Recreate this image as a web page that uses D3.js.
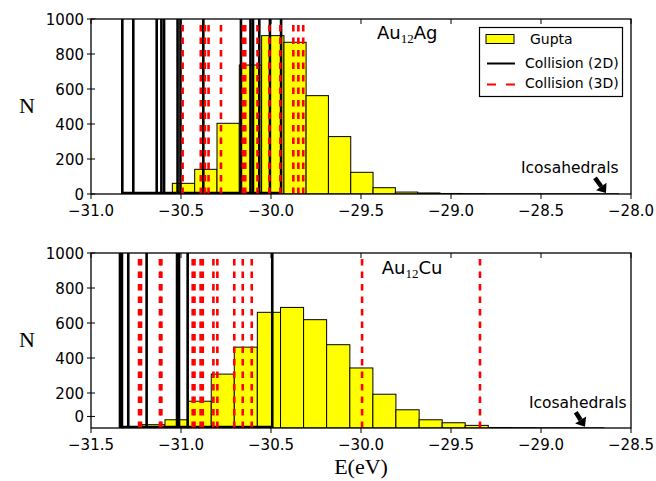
<!DOCTYPE html>
<html>
<head>
<meta charset="utf-8">
<script src="https://cdn.jsdelivr.net/npm/d3@7"></script>
<style>
  body { margin: 0; background: #fff; }
  text { font-family: "DejaVu Sans", sans-serif; }
</style>
</head>
<body>
<svg id="chart" width="656" height="481"></svg>
<script>
// Au12Ag: Gupta histogram (bin edges in eV, counts) and collision minima
const agBinEdges = [-30.548, -30.424, -30.300, -30.176, -30.052, -29.928, -29.805, -29.681, -29.557, -29.433,
                    -29.309, -29.185, -29.061, -28.937, -28.813, -28.689, -28.565, -28.441, -28.317, -28.193, -28.069];
const agCounts = [61, 141, 404, 737, 905, 867, 562, 328, 124, 36, 11, 6, 3, 2, 1, 1, 1, 1, 1, 1];
const ag2D = [-30.826, -30.765, -30.635, -30.609, -30.594, -30.519, -30.503, -30.376, -30.167, -30.114, -30.100, -30.065, -30.006, -29.944];
const ag3D = [-30.491, -30.390, -30.367, -30.347, -30.278, -30.156, -30.143, -30.075, -30.009, -29.948, -29.876, -29.848, -29.821];

// Au12Cu
const cuBinEdges = [-31.217, -31.089, -30.960, -30.832, -30.704, -30.576, -30.447, -30.319, -30.191, -30.062,
                    -29.934, -29.806, -29.677, -29.549, -29.421, -29.293, -29.164, -29.036, -28.908, -28.779, -28.651];
const cuCounts = [19, 47, 153, 308, 462, 661, 689, 619, 476, 343, 193, 104, 47, 30, 15, 3, 2, 1, 1, 1];
const cu2D = [-31.339, -31.328, -31.293, -31.191, -31.022, -31.011, -30.963, -30.493];
const cu3D = [-31.233, -31.222, -31.117, -31.109, -30.935, -30.925, -30.891, -30.879, -30.820, -30.798, -30.704, -30.657, -30.607, -29.994, -29.339];

// axes
const agXTicks = [-31.0, -30.5, -30.0, -29.5, -29.0, -28.5, -28.0];
const cuXTicks = [-31.5, -31.0, -30.5, -30.0, -29.5, -29.0, -28.5];
const agYTicks = [0, 200, 400, 600, 800, 1000];
const agYLabels = ['0', '200', '400', '600', '800', '1000'];
const cuYTicks = [66, 200, 400, 600, 800, 1000];
const cuYLabels = ['0', '200', '400', '600', '800', '1000'];

const legendLabels = ['Gupta', 'Collision (2D)', 'Collision (3D)'];

const svg = d3.select('#chart');
const fmt = d3.format('.1f');

function drawPanel(p) {
    const x = d3.scaleLinear().domain(p.xDomain).range([91, 631]);
    const y = d3.scaleLinear().domain([0, 1000]).range([p.top + 175, p.top]);
    const g = svg.append('g');

    const clipId = 'clip' + p.id;
    svg.append('clipPath').attr('id', clipId)
        .append('rect').attr('x', 91).attr('y', p.top).attr('width', 540).attr('height', 175);
    const plot = g.append('g').attr('clip-path', `url(#${clipId})`);

    // histogram bars
    plot.selectAll('rect.bar')
        .data(p.counts)
        .enter().append('rect')
        .attr('class', 'bar')
        .attr('x', (d, i) => x(p.edges[i]))
        .attr('width', (d, i) => x(p.edges[i + 1]) - x(p.edges[i]))
        .attr('y', d => y(d))
        .attr('height', d => y(0) - y(d))
        .style('fill', '#ffff00')
        .style('stroke', '#000')
        .style('stroke-width', 1);

    // collision 2D minima
    plot.selectAll('line.c2')
        .data(p.c2)
        .enter().append('line')
        .attr('x1', d => x(d)).attr('x2', d => x(d))
        .attr('y1', y(0)).attr('y2', y(1000))
        .style('stroke', '#000')
        .style('stroke-width', 2.6);

    plot.append('line')
        .attr('x1', x(d3.min(p.c2))).attr('x2', x(d3.max(p.c2)))
        .attr('y1', y(0) - 1).attr('y2', y(0) - 1)
        .style('stroke', '#000')
        .style('stroke-width', 2.4);

    // collision 3D minima
    plot.selectAll('line.c3')
        .data(p.c3)
        .enter().append('line')
        .attr('x1', d => x(d)).attr('x2', d => x(d))
        .attr('y1', y(0)).attr('y2', y(1000))
        .style('stroke', '#ff0000')
        .style('stroke-width', 2.6)
        .style('stroke-dasharray', '6.5,6');

    // frame
    g.append('rect')
        .attr('x', 91).attr('y', p.top).attr('width', 540).attr('height', 175)
        .style('fill', 'none').style('stroke', '#000').style('stroke-width', 1.3);

    // x ticks (bottom out, top in)
    const xt = g.append('g');
    p.xTicks.forEach(t => {
        xt.append('line').attr('x1', x(t)).attr('x2', x(t))
            .attr('y1', p.top + 175).attr('y2', p.top + 180)
            .style('stroke', '#000');
        xt.append('line').attr('x1', x(t)).attr('x2', x(t))
            .attr('y1', p.top).attr('y2', p.top + 5)
            .style('stroke', '#000');
        xt.append('text').attr('x', x(t)).attr('y', p.top + 197)
            .attr('text-anchor', 'middle')
            .style('font-size', '15px')
            .text(fmt(t));
    });

    // y ticks
    const yt = g.append('g');
    p.yTicks.forEach((t, i) => {
        yt.append('line').attr('x1', 87).attr('x2', 95)
            .attr('y1', y(t)).attr('y2', y(t))
            .style('stroke', '#000');
        yt.append('text').attr('x', 84).attr('y', y(t) + 5.5)
            .attr('text-anchor', 'end')
            .style('font-size', '15px')
            .text(p.yLabels[i]);
    });

    // y label
    g.append('text').attr('x', 27).attr('y', p.top + 94)
        .attr('text-anchor', 'middle')
        .style('font-family', '"Liberation Serif", serif')
        .style('font-size', '22px')
        .text('N');

    // cluster name
    const name = g.append('text')
        .attr('x', x(p.nameAt[0])).attr('y', y(p.nameAt[1]))
        .style('font-size', '18px');
    name.append('tspan').text('Au');
    name.append('tspan').attr('dy', 4)
        .style('font-family', '"Liberation Serif", serif')
        .style('font-size', '13px')
        .text('12');
    name.append('tspan').attr('dy', -4).text(p.element);

    // icosahedrals annotation
    g.append('text')
        .attr('x', x(p.icoText[0])).attr('y', y(p.icoText[1]))
        .style('font-size', '15.5px')
        .text('Icosahedrals');
    const x1 = x(p.arrow[0]), y1 = y(p.arrow[1]);
    const x2 = x(p.arrow[2]), y2 = y(p.arrow[3]);
    const ang = Math.atan2(y2 - y1, x2 - x1);
    const hl = 8, hw = 6.5;
    const bx = x2 - hl * Math.cos(ang), by = y2 - hl * Math.sin(ang);
    g.append('line').attr('x1', x1).attr('y1', y1).attr('x2', bx).attr('y2', by)
        .style('stroke', '#000').style('stroke-width', 4.5);
    g.append('path')
        .attr('d', `M${x2},${y2}L${bx - hw * Math.sin(ang)},${by + hw * Math.cos(ang)}L${bx + hw * Math.sin(ang)},${by - hw * Math.cos(ang)}Z`)
        .style('fill', '#000');
}

drawPanel({
    id: 'ag', top: 19, xDomain: [-31.0, -28.0],
    edges: agBinEdges, counts: agCounts, c2: ag2D, c3: ag3D,
    xTicks: agXTicks, yTicks: agYTicks, yLabels: agYLabels,
    element: 'Ag', nameAt: [-29.411, 886],
    icoText: [-28.611, 120], arrow: [-28.2, 92, -28.139, 6]
});

drawPanel({
    id: 'cu', top: 253, xDomain: [-31.5, -28.5],
    edges: cuBinEdges, counts: cuCounts, c2: cu2D, c3: cu3D,
    xTicks: cuXTicks, yTicks: cuYTicks, yLabels: cuYLabels,
    element: 'Cu', nameAt: [-29.885, 878],
    icoText: [-29.067, 114], arrow: [-28.807, 90, -28.756, 7]
});

// legend (top panel)
const lg = svg.append('g');
lg.append('rect').attr('x', 479.5).attr('y', 27.5).attr('width', 143).attr('height', 69)
    .style('fill', '#fff').style('stroke', '#000').style('stroke-width', 1.2);
lg.append('rect').attr('x', 486).attr('y', 34.5).attr('width', 28).attr('height', 9)
    .style('fill', '#ffff00').style('stroke', '#000').style('stroke-width', 1);
lg.append('line').attr('x1', 487).attr('x2', 515).attr('y1', 63.5).attr('y2', 63.5)
    .style('stroke', '#000').style('stroke-width', 2);
lg.append('line').attr('x1', 487).attr('x2', 515).attr('y1', 84.5).attr('y2', 84.5)
    .style('stroke', '#ff0000').style('stroke-width', 2).style('stroke-dasharray', '9,10');
lg.selectAll('text.lab')
    .data(legendLabels)
    .enter().append('text')
    .attr('x', (d, i) => i === 0 ? 530 : 525)
    .attr('y', (d, i) => [44, 68, 88][i])
    .style('font-size', '14px')
    .text(d => d);

// x label
svg.append('text').attr('x', 361).attr('y', 474)
    .attr('text-anchor', 'middle')
    .style('font-family', '"Liberation Serif", serif')
    .style('font-size', '22px')
    .text('E(eV)');
</script>
</body>
</html>
